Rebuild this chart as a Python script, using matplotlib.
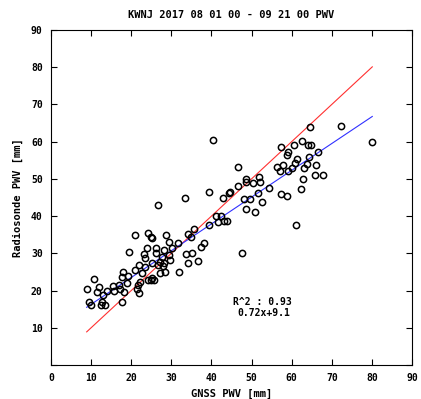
import matplotlib
matplotlib.use("Agg")
import matplotlib.pyplot as plt
import numpy as np

# GNSS PWV (x) vs radiosonde PWV (y), mm
gnss = [80.1, 72.4, 64.5, 62.5, 64.0, 64.8, 60.7, 57.4, 66.5, 59.2, 58.9, 61.3, 64.3,
        60.8, 63.8, 66.1, 57.8, 60.2, 63.2, 59.2, 57.1, 65.8, 67.7, 62.8, 62.3, 57.3,
        58.9, 61.1, 56.4,
        46.7, 51.9, 48.7, 52.2, 50.4, 48.6, 46.7, 44.7, 44.3, 42.8, 54.4, 51.5, 49.6,
        48.0, 52.5, 48.6, 50.9, 42.5, 43.2, 40.5, 26.8, 33.5, 39.4, 47.6,
        41.1, 41.6, 44.0, 39.4, 35.7, 28.6, 34.1, 34.9, 25.1, 29.5, 31.6, 38.2, 37.3,
        26.2, 30.1, 28.3, 26.3, 33.7, 35.1, 29.3, 27.6, 29.7, 36.6, 27.2, 34.2, 28.2,
        26.8, 27.9, 28.4, 32.0, 27.2, 25.1,
        20.9, 24.1, 24.9, 19.5, 23.9, 23.1, 23.4, 21.9, 25.1, 23.5, 20.9, 17.9, 22.8,
        19.1, 17.8, 10.8, 24.3, 24.9, 25.6, 22.2, 21.6, 17.0, 19.0, 15.4, 12.0, 14.0,
        17.2, 18.3, 8.9, 11.5, 12.9, 15.8, 21.5, 21.9, 17.6, 9.6, 12.6, 13.5, 12.4, 10.0]
sonde = [59.8, 64.3, 64.0, 60.3, 59.0, 59.0, 59.1, 58.6, 57.2, 57.1, 56.3, 55.4, 56.0,
         54.2, 54.0, 53.8, 53.6, 52.8, 52.8, 52.0, 52.0, 51.1, 51.1, 50.1, 47.2, 45.9,
         45.3, 37.5, 53.1,
         53.3, 50.4, 50.1, 49.1, 48.8, 49.1, 48.0, 46.6, 46.1, 44.8, 47.5, 46.1, 44.7,
         44.5, 43.8, 42.0, 41.2, 40.1, 38.6, 60.5, 42.9, 45.0, 46.5, 30.0,
         40.1, 38.3, 38.8, 37.5, 36.6, 34.8, 35.1, 34.4, 34.0, 33.0, 32.9, 32.9, 31.6,
         31.5, 31.5, 30.9, 30.2, 29.8, 30.0, 29.5, 28.9, 28.2, 28.0, 27.6, 27.3, 27.3,
         27.0, 26.6, 25.1, 25.1, 24.8, 23.3,
         34.8, 35.5, 34.3, 30.4, 31.5, 29.8, 28.8, 27.0, 27.3, 26.2, 25.6, 25.1, 24.8,
         23.9, 23.7, 23.2, 22.8, 22.8, 22.8, 22.2, 21.4, 21.5, 22.0, 21.3, 21.0, 20.0,
         20.3, 19.7, 20.5, 19.5, 18.8, 20.0, 20.3, 19.4, 17.0, 17.0, 17.0, 16.0, 16.1, 16.0]

slope = 0.72
intercept = 9.1
r2 = 0.93

plt.rcParams['font.family'] = 'DejaVu Sans Mono'
plt.rcParams['font.weight'] = 'bold'

fig = plt.figure(figsize=(4.21, 3.99), dpi=100)
ax = fig.add_axes([0.1211, 0.0852, 0.8575, 0.8396])

xs = np.array([min(gnss), max(gnss)])
ax.plot(xs, xs, color='#ff3030', lw=0.8)
ax.plot(xs, slope * xs + intercept, color='#3030ff', lw=0.8)
ax.plot(gnss, sonde, 'o', mfc='none', mec='black', mew=1.1, ms=4.5)

ax.text(45.4, 16.9, 'R^2 : %.2f' % r2, fontsize=7, va='center')
ax.text(46.5, 14.0, '%.2fx+%.1f' % (slope, intercept), fontsize=7, va='center')

ax.set_xlim(0, 90)
ax.set_ylim(0, 90)
ticks = np.arange(0, 91, 10)
ax.set_xticks(ticks)
ax.set_yticks(ticks)
ax.set_yticklabels([''] + [str(t) for t in ticks[1:]])
ax.tick_params(direction='in', top=True, right=True, length=4, width=0.8,
               labelsize=7, pad=6)
for s in ax.spines.values():
    s.set_linewidth(0.8)

ax.set_title('KWNJ 2017 08 01 00 - 09 21 00 PWV', fontsize=7.5, fontweight='bold', pad=9)
ax.set_xlabel('GNSS PWV [mm]', fontsize=7.5, fontweight='bold', labelpad=4)
ax.set_ylabel('Radiosonde PWV [mm]', fontsize=7.5, fontweight='bold', labelpad=6)

fig.savefig('out.png', dpi=100)
